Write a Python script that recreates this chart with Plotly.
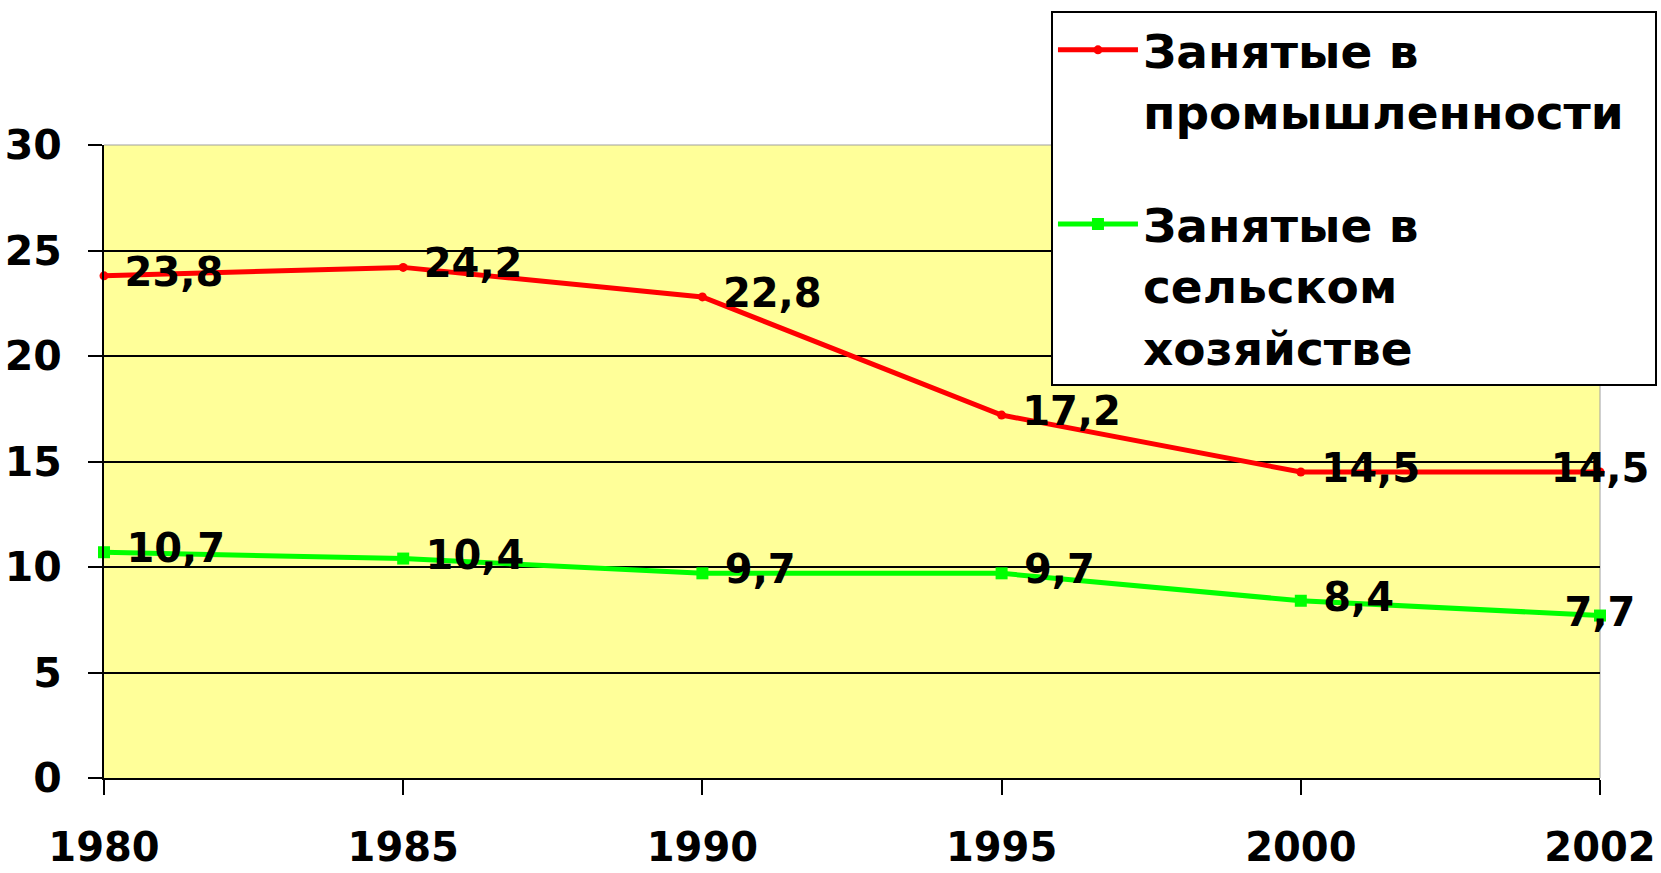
import plotly.graph_objects as go

years = ["1980", "1985", "1990", "1995", "2000", "2002"]
industry = [23.8, 24.2, 22.8, 17.2, 14.5, 14.5]
agriculture = [10.7, 10.4, 9.7, 9.7, 8.4, 7.7]
name_industry = "Занятые в<br>промышленности\u00a0\u2009"
name_agri = "Занятые в<br>сельском<br>хозяйстве"
y_ticks = [0, 5, 10, 15, 20, 25, 30]
grid_vals = [5, 10, 15, 20, 25]

FONT = "DejaVu Sans, Arial, sans-serif"


def labels(vals):
    out = []
    for i, v in enumerate(vals):
        s = f"{v:.1f}".replace(".", ",")
        out.append(s if i == len(vals) - 1 else " " + s)
    return out


positions = ["middle right"] * (len(years) - 1) + ["middle center"]

fig = go.Figure()
fig.add_trace(go.Scatter(
    x=years, y=industry, name=name_industry, legendgroup="a",
    mode="lines+markers+text",
    line=dict(color="#FF0000", width=5),
    marker=dict(color="#FF0000", size=9, symbol="circle"),
    text=labels(industry), textposition=positions,
    textfont=dict(family=FONT, size=40, color="black", weight="bold"),
    cliponaxis=False,
))
fig.add_trace(go.Scatter(
    x=years, y=agriculture, name=name_agri, legendgroup="b",
    mode="lines+markers+text",
    line=dict(color="#00FF00", width=5),
    marker=dict(color="#00FF00", size=12, symbol="square"),
    text=labels(agriculture), textposition=positions,
    textfont=dict(family=FONT, size=40, color="black", weight="bold"),
    cliponaxis=False,
))

fig.update_layout(
    width=1661, height=873, autosize=False,
    margin=dict(l=104, r=61, t=145, b=95, autoexpand=False),
    paper_bgcolor="white",
    plot_bgcolor="#FFFF99",
    font=dict(family=FONT, size=40, color="black", weight="bold"),
    showlegend=True,
    legend=dict(
        x=0.633, y=1.212, xanchor="left", yanchor="top",
        bgcolor="white", bordercolor="black", borderwidth=2,
        font=dict(family=FONT, size=47, color="black", weight="bold"),
        valign="top", itemwidth=80, tracegroupgap=49,
    ),
    xaxis=dict(
        type="category", range=[0, 5],
        showline=True, linecolor="black", linewidth=2,
        ticks="outside", ticklen=15, tickwidth=2, tickcolor="black",
        showgrid=False, ticklabelstandoff=18,
        tickfont=dict(family=FONT, size=40, color="black", weight="bold"),
    ),
    yaxis=dict(
        range=[0, 30], tickmode="array", tickvals=y_ticks,
        showline=True, linecolor="black", linewidth=2,
        ticks="outside", ticklen=14, tickwidth=2, tickcolor="black",
        showgrid=False, zeroline=False, ticklabelstandoff=18,
        tickfont=dict(family=FONT, size=41, color="black", weight="bold"),
        minor=dict(tickmode="array", tickvals=grid_vals, showgrid=True,
                   gridcolor="black", gridwidth=2, ticks=""),
    ),
    shapes=[
        dict(type="line", xref="paper", yref="paper", x0=0, x1=1, y0=1, y1=1,
             line=dict(color="#A0A0A0", width=1), layer="below"),
        dict(type="line", xref="paper", yref="paper", x0=1, x1=1, y0=0, y1=1,
             line=dict(color="#A0A0A0", width=1), layer="below"),
    ],
)

fig.write_html(
    "out.html",
    config={"displayModeBar": False},
    post_script="document.body.style.margin='0';document.body.style.overflow='hidden';",
)
